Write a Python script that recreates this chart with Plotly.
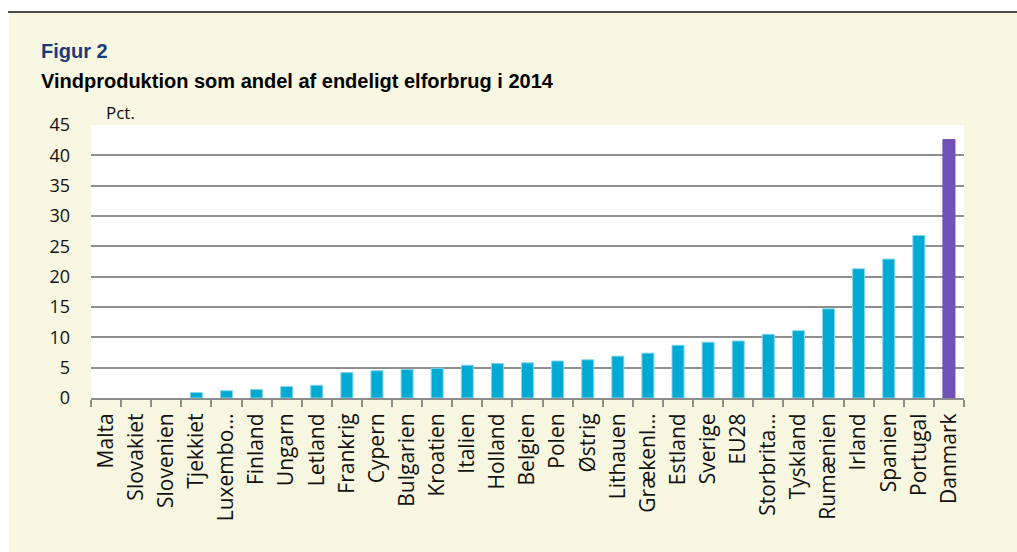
import plotly.graph_objects as go

categories = ["Malta", "Slovakiet", "Slovenien", "Tjekkiet", "Luxembo…", "Finland", "Ungarn",
              "Letland", "Frankrig", "Cypern", "Bulgarien", "Kroatien", "Italien", "Holland",
              "Belgien", "Polen", "Østrig", "Lithauen", "Grækenl…", "Estland", "Sverige", "EU28",
              "Storbrita…", "Tyskland", "Rumænien", "Irland", "Spanien", "Portugal", "Danmark"]
values = [0.0, 0.0, 0.0, 0.9, 1.2, 1.4, 1.9, 2.1, 4.2, 4.5, 4.7, 4.9, 5.4, 5.7,
          5.8, 6.1, 6.3, 6.9, 7.4, 8.7, 9.2, 9.4, 10.5, 11.1, 14.7, 21.3, 22.9, 26.8, 42.6]
y_ticks = [0, 5, 10, 15, 20, 25, 30, 35, 40, 45]
highlight = "Danmark"

W, H = 1017, 552
ML, MR, MT, MB = 91, 53, 125, 154
PW, PH = W - ML - MR, H - MT - MB

def px(x):
    return (x - ML) / PW

def py(y):
    return (H - MB - y) / PH

BEIGE = "#F8F7E1"
colors = ["#7052B6" if c == highlight else "#00AAD3" for c in categories]
lines = ["#7052B6" if c == highlight else "#86D6EC" for c in categories]
line_w = [0 if v == 0 else 1 for v in values]

fig = go.Figure(go.Bar(
    x=categories, y=values,
    marker=dict(color=colors, line=dict(color=lines, width=line_w)),
    width=0.4,
))

font_main = "Open Sans, DejaVu Sans, sans-serif"

fig.update_layout(
    width=W, height=H,
    margin=dict(l=ML, r=MR, t=MT, b=MB, pad=0),
    paper_bgcolor=BEIGE,
    plot_bgcolor="white",
    showlegend=False,
    font=dict(family=font_main, color="#1a1a1a"),
    xaxis=dict(
        type="category",
        automargin=False,
        tickangle=-90,
        tickfont=dict(size=21, family=font_main, color="#111111"),
        showline=True, linecolor="#8C8C8C", linewidth=2,
        ticks="outside", tickson="boundaries", ticklen=7, tickcolor="#8C8C8C", tickwidth=2,
        ticklabelstandoff=5,
        showgrid=False,
    ),
    yaxis=dict(
        automargin=False,
        range=[0, 45],
        tickvals=y_ticks,
        tickfont=dict(size=18, family=font_main, color="#111111"),
        showgrid=True, gridcolor="#8E8E8E", gridwidth=2,
        zeroline=False, showline=False, ticks="",
        ticklabelstandoff=20,
    ),
    shapes=[
        dict(type="rect", xref="paper", yref="paper", layer="above",
             x0=px(0), x1=px(W), y0=py(0), y1=py(12),
             fillcolor="white", line=dict(width=0)),
        dict(type="rect", xref="paper", yref="paper", layer="above",
             x0=px(0), x1=px(9), y0=py(0), y1=py(H),
             fillcolor="white", line=dict(width=0)),
        dict(type="line", xref="paper", yref="paper",
             x0=px(8), x1=px(W), y0=py(12), y1=py(12),
             line=dict(color="#111111", width=1.5)),
    ],
    annotations=[
        dict(text="<b>Figur 2</b>", xref="paper", yref="paper", x=px(39), y=py(51),
             xanchor="left", yanchor="middle", showarrow=False,
             font=dict(family="Liberation Sans, Arial, sans-serif", size=20, color="#1C3A78")),
        dict(text="<b>Vindproduktion som andel af endeligt elforbrug i 2014</b>", xref="paper", yref="paper",
             x=px(39), y=py(81), xanchor="left", yanchor="middle", showarrow=False,
             font=dict(family="Liberation Sans, Arial, sans-serif", size=20, color="#000000")),
        dict(text="Pct.", xref="paper", yref="paper", x=px(104), y=py(126),
             xanchor="left", yanchor="bottom", showarrow=False,
             font=dict(family=font_main, size=17, color="#111111")),
    ],
)

fig.write_html("out.html", config={"displayModeBar": False},
               post_script="document.body.style.margin='0';document.body.style.overflow='hidden';")
